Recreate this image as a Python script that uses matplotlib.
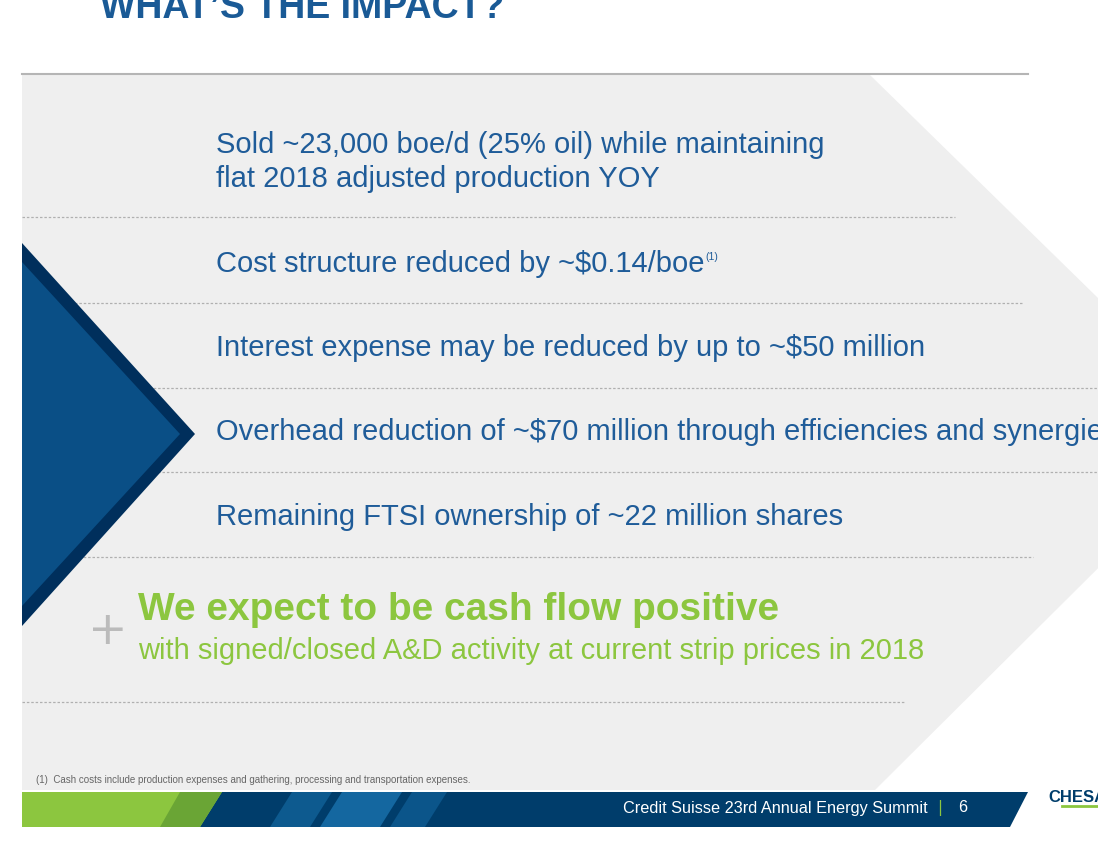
import matplotlib.pyplot as plt
from matplotlib.patches import Polygon

title = "WHAT\u2019S THE IMPACT?"
bullets = [
    "Sold ~23,000 boe/d (25% oil) while maintaining\nflat 2018 adjusted production YOY",
    "Cost structure reduced by ~$0.14/boe",
    "Interest expense may be reduced by up to ~$50 million",
    "Overhead reduction of ~$70 million through efficiencies and synergies",
    "Remaining FTSI ownership of ~22 million shares",
]
bullet_y = [162, 264, 348, 432, 517]
divider_y = [217, 303, 388, 472, 557, 702]
divider_end = [955, 1022, 1098, 1098, 1033, 905]
headline = "We expect to be cash flow positive"
subline = "with signed/closed A&D activity at current strip prices in 2018"
footnote = "(1)  Cash costs include production expenses and gathering, processing and transportation expenses."
footer = "Credit Suisse 23rd Annual Energy Summit"
page = "6"

BLUE = "#1f5c99"
DARK = "#003d6b"
GREEN = "#8cc63f"

fig = plt.figure(figsize=(10.98, 8.44), dpi=100)
ax = fig.add_axes([0, 0, 1, 1])
ax.set_xlim(0, 1098)
ax.set_ylim(844, 0)
ax.axis("off")

# grey chevron panel
ax.add_patch(Polygon([(22, 75), (870, 75), (1235, 432), (875, 790), (22, 790)],
                     closed=True, fc="#efefef", ec="none", zorder=0))
ax.plot([22, 1028], [74, 74], color="#b5b5b5", lw=1.5, zorder=1)

ax.text(100, 8, title, fontsize=27, fontweight="bold", color="#1a5a96",
        family="Liberation Sans", va="center", clip_on=True)

for y, x1 in zip(divider_y, divider_end):
    ax.plot([22, x1], [y, y], color="#b0b0b0", lw=0.9, ls=(0, (2, 1.5)), zorder=1)

# blue triangle with darker edge
ax.add_patch(Polygon([(22, 243), (195, 434), (22, 626)], closed=True,
                     fc="#002f5c", ec="none", zorder=2))
ax.add_patch(Polygon([(22, 262), (180, 434), (22, 606)], closed=True,
                     fc="#0a4f86", ec="none", zorder=3))

for txt, y in zip(bullets, bullet_y):
    ax.text(216, y, txt, fontsize=21, color=BLUE, family="Liberation Sans",
            va="center", linespacing=1.3, clip_on=True, zorder=4)
ax.text(705, 257, "(1)", fontsize=7.5, color=BLUE, family="Liberation Sans", va="center")

ax.text(108, 632, "+", fontsize=34, color="#bbbbbb", ha="center", va="center",
        family="DejaVu Sans")
ax.text(138, 610, headline, fontsize=28, fontweight="bold", color=GREEN,
        family="Liberation Sans", va="center")
ax.text(138, 651, subline, fontsize=21, color=GREEN, family="Liberation Sans",
        va="center")

ax.text(36, 780, footnote, fontsize=7, color="#666666", family="Liberation Sans",
        va="center")

# footer bar
ax.add_patch(Polygon([(22, 792), (1028, 792), (1010, 827), (22, 827)],
                     fc=DARK, ec="none", zorder=1))
ax.add_patch(Polygon([(22, 792), (222, 792), (200, 827), (22, 827)],
                     fc=GREEN, ec="none", zorder=2))
ax.add_patch(Polygon([(180, 792), (222, 792), (200, 827), (160, 827)],
                     fc="#6aa535", ec="none", zorder=2))
for x0, w, c in [(270, 40, "#0d5a8f"), (320, 60, "#1467a0"), (390, 35, "#0b558a")]:
    ax.add_patch(Polygon([(x0 + 22, 792), (x0 + 22 + w, 792), (x0 + w, 827), (x0, 827)],
                         fc=c, ec="none", zorder=2))
ax.text(928, 808, footer, fontsize=11.7, color="white", family="Liberation Sans",
        ha="right", va="center", zorder=3)
ax.text(940, 808, "|", fontsize=11, color=GREEN, ha="center", va="center", zorder=3)
ax.text(963, 808, page, fontsize=11.7, color="white", family="Liberation Sans",
        ha="center", va="center", zorder=3)

ax.text(1048, 797, "CHESAPEAKE", fontsize=12, fontweight="bold", color=DARK,
        family="Liberation Sans", va="center", clip_on=True)
ax.plot([1062, 1098], [806, 806], color=GREEN, lw=2, clip_on=True)

fig.savefig("out.png", dpi=100, facecolor="white")
